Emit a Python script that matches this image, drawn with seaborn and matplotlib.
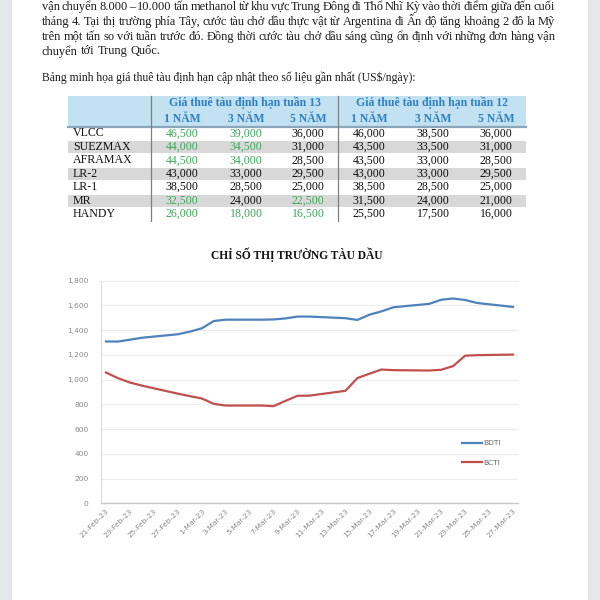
import pandas as pd
import matplotlib
matplotlib.use("Agg")
import matplotlib.pyplot as plt
import matplotlib.dates as mdates
import seaborn as sns
from matplotlib.patches import Rectangle

# ---- du lieu ----
ngay = ["2023-02-21", "2023-02-22", "2023-02-23", "2023-02-24", "2023-02-27",
        "2023-02-28", "2023-03-01", "2023-03-02", "2023-03-03", "2023-03-06",
        "2023-03-07", "2023-03-08", "2023-03-09", "2023-03-10", "2023-03-13",
        "2023-03-14", "2023-03-15", "2023-03-16", "2023-03-17", "2023-03-20",
        "2023-03-21", "2023-03-22", "2023-03-23", "2023-03-24", "2023-03-27"]
bdti = [1309, 1308, 1323, 1339, 1367, 1388, 1415, 1474, 1485, 1485, 1487, 1495, 1510,
        1510, 1497, 1483, 1525, 1552, 1585, 1613, 1646, 1656, 1644, 1620, 1588]
bcti = [1058, 1012, 977, 952, 887, 867, 848, 805, 791, 791, 786, 829, 870,
        871, 910, 1013, 1048, 1082, 1077, 1074, 1080, 1110, 1194, 1198, 1203]
nhan_truc_x = ["2023-02-21", "2023-02-23", "2023-02-25", "2023-02-27", "2023-03-01",
               "2023-03-03", "2023-03-05", "2023-03-07", "2023-03-09", "2023-03-11",
               "2023-03-13", "2023-03-15", "2023-03-17", "2023-03-19", "2023-03-21",
               "2023-03-23", "2023-03-25", "2023-03-27"]
nhan_truc_y = [0, 200, 400, 600, 800, 1000, 1200, 1400, 1600, 1800]

doan_van = [
    "vận chuyển 8.000 – 10.000 tấn methanol từ khu vực Trung Đông đi Thổ Nhĩ Kỳ vào thời điểm giữa đến cuối",
    "tháng 4. Tại thị trường phía Tây, cước tàu chở dầu thực vật từ Argentina đi Ấn độ tăng khoảng 2 đô la Mỹ",
    "trên một tấn so với tuần trước đó. Đồng thời cước tàu chở dầu sáng cũng ổn định với những đơn hàng vận",
    "chuyển tới Trung Quốc.",
]
tieu_de_bang = "Bảng minh họa giá thuê tàu định hạn cập nhật theo số liệu gần nhất (US$/ngày):"
nhom_cot = ["Giá thuê tàu định hạn tuần 13", "Giá thuê tàu định hạn tuần 12"]
ky_han = ["1 NĂM", "3 NĂM", "5 NĂM", "1 NĂM", "3 NĂM", "5 NĂM"]
loai_tau = ["VLCC", "SUEZMAX", "AFRAMAX", "LR-2", "LR-1", "MR", "HANDY"]
gia_thue = [
    ["46,500", "39,000", "36,000", "46,000", "38,500", "36,000"],
    ["44,000", "34,500", "31,000", "43,500", "33,500", "31,000"],
    ["44,500", "34,000", "28,500", "43,500", "33,000", "28,500"],
    ["43,000", "33,000", "29,500", "43,000", "33,000", "29,500"],
    ["38,500", "28,500", "25,000", "38,500", "28,500", "25,000"],
    ["32,500", "24,000", "22,500", "31,500", "24,000", "21,000"],
    ["26,000", "18,000", "16,500", "25,500", "17,500", "16,000"],
]
# o nao co so mau xanh (tang so voi tuan truoc)
o_xanh = [
    [1, 1, 0], [1, 1, 0], [1, 1, 0], [0, 0, 0], [0, 0, 0], [1, 0, 1], [1, 1, 1],
]

serif = ["Liberation Serif", "DejaVu Serif"]

fig = plt.figure(figsize=(6, 6), dpi=100)
fig.patch.set_facecolor("white")

# tlo strony - wspolrzedne w pikselach
bg = fig.add_axes([0, 0, 1, 1])
bg.set_xlim(0, 600)
bg.set_ylim(600, 0)
bg.axis("off")
bg.add_patch(Rectangle((0, 0), 12, 600, color="#e6e7eb", lw=0))
bg.add_patch(Rectangle((588, 0), 12, 600, color="#e6e7eb", lw=0))

# akapit z wyrownaniem do obu stron
renderer = fig.canvas.get_renderer()
x_lewy, x_prawy = 42, 555
for i, linia in enumerate(doan_van):
    y = 7 + i * 14.8
    slowa = linia.split(" ")
    teksty = [bg.text(0, y, s, fontsize=8.9, family=serif, color="#1c1c1c",
                      va="center", ha="left") for s in slowa]
    szer = [t.get_window_extent(renderer).width for t in teksty]
    if i < len(doan_van) - 1:
        odstep = (x_prawy - x_lewy - sum(szer)) / (len(slowa) - 1)
    else:
        odstep = 3.0
    x = x_lewy
    for t, w in zip(teksty, szer):
        t.set_x(x)
        x += w + odstep

bg.text(x_lewy, 77.7, tieu_de_bang, fontsize=8.4, family=serif, color="#1c1c1c",
        va="center", ha="left")

# tabela
tb_lewo, tb_prawo = 68, 526
bg.add_patch(Rectangle((tb_lewo, 95.7), tb_prawo - tb_lewo, 31, color="#c3e2f1", lw=0))
bg.plot([tb_lewo, tb_prawo], [126.7, 126.7], color="#8aa6b8", lw=1.6)
wys_wiersza = 13.45
for r in range(len(loai_tau)):
    y0 = 126.7 + r * wys_wiersza
    if r % 2 == 1:
        bg.add_patch(Rectangle((tb_lewo, y0 + 0.6), tb_prawo - tb_lewo, wys_wiersza - 1.2,
                               color="#d8d8d8", lw=0))
for xs in (151.2, 338.3):
    bg.plot([xs, xs], [95.7, 221], color="#7f7f7f", lw=0.9)

kolor_naglowka = "#2f7fc0"
bg.text(245, 102.7, nhom_cot[0], fontsize=8.5, family=serif, weight="bold",
        color=kolor_naglowka, ha="center", va="center")
bg.text(432, 102.7, nhom_cot[1], fontsize=8.5, family=serif, weight="bold",
        color=kolor_naglowka, ha="center", va="center")
kol_x = [182, 246, 308, 369, 433, 496]
for cx, k in zip(kol_x, ky_han):
    bg.text(cx, 118.5, k, fontsize=8.4, family=serif, weight="bold",
            color=kolor_naglowka, ha="center", va="center")
for r, (tau, wiersz) in enumerate(zip(loai_tau, gia_thue)):
    yc = 126.7 + (r + 0.5) * wys_wiersza
    bg.text(73, yc, tau, fontsize=8.6, family=serif, color="#111111",
            ha="left", va="center")
    for c, (cx, v) in enumerate(zip(kol_x, wiersz)):
        kol = "#3fa85c" if c < 3 and o_xanh[r][c] else "#111111"
        bg.text(cx, yc, v, fontsize=8.6, family=serif, color=kol,
                ha="center", va="center")

# tytul wykresu
bg.text(296.5, 255, "CHỈ SỐ THỊ TRƯỜNG TÀU DẦU", fontsize=8.3, family=serif,
        weight="bold", color="#111111", ha="center", va="center")

# ---- wykres liniowy ----
df = pd.DataFrame({
    "ngay": pd.to_datetime(ngay * 2),
    "chi_so": bdti + bcti,
    "loai": ["BDTI"] * len(ngay) + ["BCTI"] * len(ngay),
})

ax = fig.add_axes([101 / 600, (600 - 503.4) / 600, (518 - 101) / 600, (503.4 - 280.7) / 600])
sns.lineplot(data=df, x="ngay", y="chi_so", hue="loai",
             palette={"BDTI": "#4f81bd", "BCTI": "#c0504d"}, linewidth=1.6, ax=ax)

pad = pd.Timedelta(hours=10)
ax.set_xlim(pd.Timestamp(ngay[0]) - pad, pd.Timestamp(ngay[-1]) + pad)
ax.set_ylim(0, 1800)
ax.set_yticks(nhan_truc_y)
ax.set_yticklabels([f"{v:,}" for v in nhan_truc_y])
ax.set_xticks(pd.to_datetime(nhan_truc_x))
ax.xaxis.set_major_formatter(mdates.DateFormatter("%-d-%b-%y"))
for lab in ax.get_xticklabels():
    lab.set_rotation(45)
    lab.set_ha("right")
    lab.set_va("top")
    lab.set_rotation_mode("anchor")
ax.tick_params(axis="both", length=0, labelsize=5.4, labelcolor="#8a8a8a")
ax.tick_params(axis="y", pad=9)
ax.tick_params(axis="x", pad=3)
ax.set_xlabel("")
ax.set_ylabel("")
ax.grid(axis="y", color="#ececec", lw=0.8)
ax.set_axisbelow(True)
for s in ("top", "right"):
    ax.spines[s].set_visible(False)
ax.spines["left"].set_color("#dcdcdc")
ax.spines["bottom"].set_color("#c8c8c8")
ax.spines["left"].set_linewidth(0.8)
ax.spines["bottom"].set_linewidth(1.0)

leg = ax.legend(loc="center left", bbox_to_anchor=(461.7 / 600, (600 - 453) / 600),
                bbox_transform=fig.transFigure, frameon=False, fontsize=5.4,
                handlelength=2.7, handletextpad=0.2, borderpad=0, borderaxespad=0,
                labelspacing=1.75)
for t in leg.get_texts():
    t.set_color("#666666")

fig.savefig("out.png", dpi=100)
